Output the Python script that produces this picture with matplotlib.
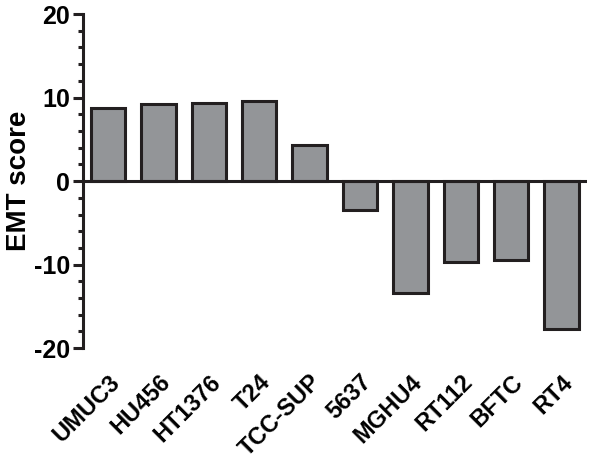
import matplotlib.pyplot as plt
from matplotlib.ticker import MultipleLocator

cell_lines = ["UMUC3", "HU456", "HT1376", "T24", "TCC-SUP",
              "5637", "MGHU4", "RT112", "BFTC", "RT4"]
emt_scores = [8.7, 9.2, 9.4, 9.6, 4.3, -3.4, -13.4, -9.7, -9.5, -17.7]

plt.rcParams['font.family'] = ['Liberation Sans', 'DejaVu Sans']

fig = plt.figure(figsize=(6, 4.68), dpi=100)
ax = fig.add_axes([0.138, 0.256, 0.840, 0.714])

x = range(len(cell_lines))
ax.bar(x, emt_scores, width=0.68, color="#939598", edgecolor="#231f20",
       linewidth=2.2, zorder=2)
ax.axhline(0, color="#231f20", linewidth=2.2, zorder=3)

ax.set_xlim(-0.5, 9.5)
ax.set_ylim(-20, 20)
ax.yaxis.set_major_locator(MultipleLocator(10))
ax.yaxis.set_minor_locator(MultipleLocator(2))

for side in ["top", "right", "bottom"]:
    ax.spines[side].set_visible(False)
ax.spines["left"].set_linewidth(2.2)
ax.spines["left"].set_color("#231f20")

ax.tick_params(axis="y", which="major", length=7, width=2.2, color="#231f20",
               labelsize=18, pad=2)
ax.tick_params(axis="y", which="minor", length=3.5, width=2.2, color="#231f20")
ax.set_yticks([-20, -10, 0, 10, 20])
ax.set_yticklabels(["-20", "-10", "0", "10", "20"], fontweight="bold")

ax.set_xticks(list(x))
ax.set_xticklabels(cell_lines, rotation=45, ha="right", rotation_mode="anchor",
                   fontsize=17, fontweight="bold")
ax.tick_params(axis="x", length=0, pad=16)

ax.set_ylabel("EMT score", fontsize=20, fontweight="bold")
ax.yaxis.set_label_coords(-0.101, 0.5)

fig.savefig("out.png", dpi=100)
